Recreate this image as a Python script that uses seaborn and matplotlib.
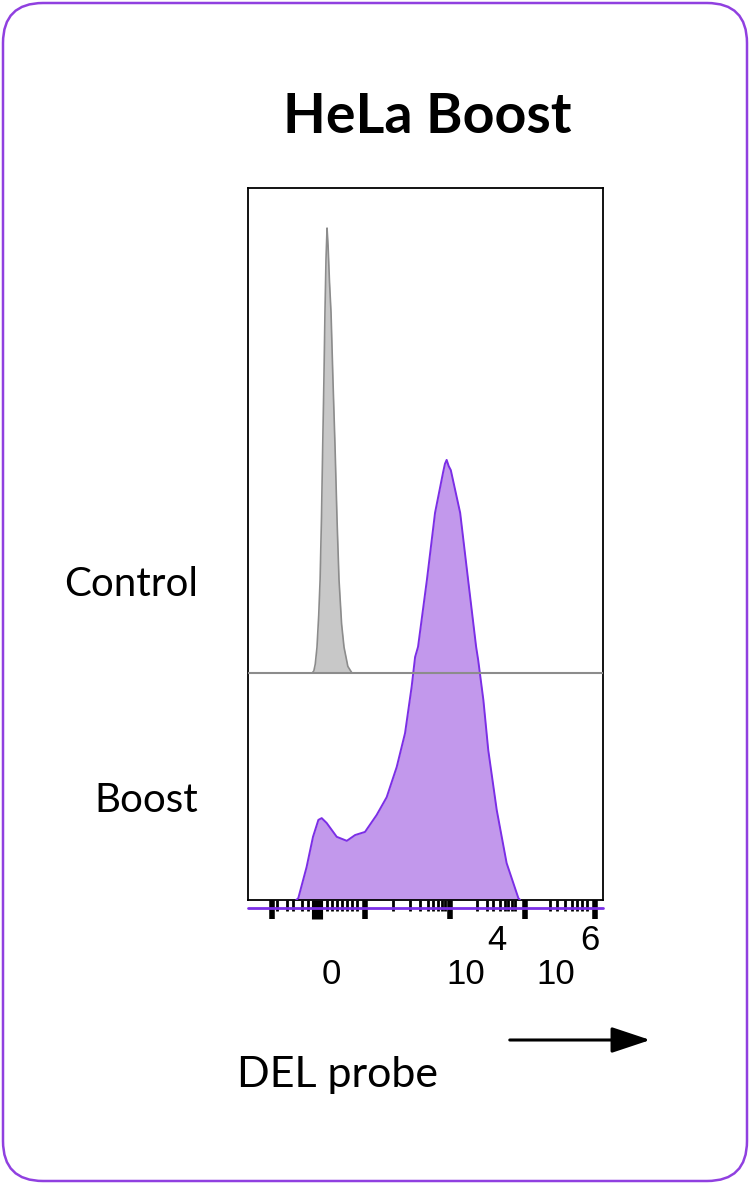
import matplotlib
matplotlib.use('Agg')
import matplotlib.pyplot as plt
import seaborn as sns
from matplotlib.patches import FancyBboxPatch

# x values in display channels (0-1024 flow scale), y in % of mode
control_channel = [185, 190, 194, 199, 204, 208, 212, 215.5, 219, 222, 225, 228,
                   231, 235, 239.5, 245, 251, 257, 262.5, 270, 277, 288, 300]
control_pct = [0, 0.5, 2, 5.8, 13, 21, 35, 51, 66, 81, 93, 100,
               96, 88, 81, 66, 51, 34, 21, 11, 5.8, 1.5, 0]

boost_channel = [139, 145, 169, 187.5, 203, 212.6, 227, 256, 285, 309, 337.5, 371,
                 400, 429, 453, 472, 482, 490.5, 516, 539.5, 563, 568, 573, 579,
                 585, 612, 635, 658, 664, 679, 693, 717.5, 746, 780, 785]
boost_pct = [0, 0.4, 7.4, 14.2, 18, 18.4, 17.3, 14.2, 13.3, 14.6, 15.3, 19.1,
             23.1, 29.9, 37.5, 47.9, 54.6, 56.9, 71.9, 87, 96.2, 98, 98.9, 97.5,
             96.6, 87, 71.9, 56.9, 53.9, 44.9, 33.7, 20.2, 8.3, 0.4, 0]

sample_names = ['Control', 'Boost']
lane_offset = 51

# axis ticks (channel positions of -10^3, 0, 10^3, 10^4, 10^5, 10^6)
major_ticks = [69, 199, 338, 583, 799, 1001]
minor_ticks = [84, 113, 130, 156, 173,
               228, 242, 257, 271, 286, 300, 314,
               418, 467, 496, 519, 534, 548, 560, 568,
               661, 690, 707, 727, 741, 750, 762, 770,
               871, 891, 915, 935, 949, 964, 978]

purple_line = '#7b2ee6'
purple_fill = '#c298ec'
grey_line = '#8c8c8c'
grey_fill = '#c8c8c8'

sns.set_style('white')
plt.rcParams['font.family'] = ['Lato', 'DejaVu Sans']
plt.rcParams['text.color'] = 'black'

fig = plt.figure(figsize=(7.5, 11.84), dpi=100)
ax = fig.add_axes([248 / 750, 1 - 900 / 1184, 355 / 750, 712 / 1184])

# Boost histogram
ax.fill_between(boost_channel, 0, boost_pct, color=purple_fill, lw=0, zorder=2)
sns.lineplot(x=boost_channel, y=boost_pct, color=purple_line, lw=1.4, ax=ax, zorder=3)

# Control histogram, offset lane
ctrl_top = [v + lane_offset for v in control_pct]
ax.fill_between(control_channel, lane_offset, ctrl_top, color=grey_fill, lw=0, zorder=2)
sns.lineplot(x=control_channel, y=ctrl_top, color=grey_line, lw=1.2, ax=ax, zorder=3)
ax.axhline(lane_offset, color=grey_line, lw=1.5, zorder=4)

# boost baseline drawn just under the axis
ax.plot([0, 1], [-0.011, -0.011], transform=ax.transAxes, clip_on=False,
        color=purple_line, lw=2, zorder=1)

ax.set_xlim(0, 1024)
ax.set_ylim(0, 160)
ax.set_yticks([])
ax.set_xticks(major_ticks)
ax.set_xticks(minor_ticks, minor=True)
ax.set_xticklabels([])
ax.tick_params(axis='x', which='major', direction='out', length=14, width=4,
               color='black', bottom=True)
ax.tick_params(axis='x', which='minor', direction='out', length=8, width=2,
               color='black', bottom=True)
for t in ax.xaxis.get_major_ticks():
    if t.get_loc() == 199:
        t.tick1line.set_markeredgewidth(8)
for s in ax.spines.values():
    s.set_color('black')
    s.set_linewidth(1.3)
ax.set_xlabel('')
ax.set_ylabel('')

# tick labels, FlowJo-style
lab_kw = dict(family='Liberation Sans', fontsize=25, ha='center', va='center',
              color='black')
fig.text(331 / 750, 1 - 975 / 1184, '0', **lab_kw)
fig.text(466 / 750, 1 - 975 / 1184, '10', **lab_kw)
fig.text(497 / 750, 1 - 941 / 1184, '4', **lab_kw)
fig.text(556 / 750, 1 - 975 / 1184, '10', **lab_kw)
fig.text(590 / 750, 1 - 941 / 1184, '6', **lab_kw)

# lane labels
fig.text(198 / 750, 1 - 585 / 1184, sample_names[0], ha='right', va='center',
         fontsize=29, color='black')
fig.text(198 / 750, 1 - 800 / 1184, sample_names[1], ha='right', va='center',
         fontsize=29, color='black')

fig.text(427 / 750, 1 - 117 / 1184, 'HeLa Boost', ha='center', va='center',
         fontsize=40, fontweight='bold', color='black')
fig.text(237 / 750, 1 - 1075 / 1184, 'DEL probe', ha='left', va='center',
         fontsize=31, color='black')

ax.annotate('', xy=(653 / 750, 1 - 1040 / 1184), xytext=(507 / 750, 1 - 1040 / 1184),
            xycoords='figure fraction', textcoords='figure fraction',
            arrowprops=dict(arrowstyle='-|>,head_length=1.2,head_width=0.4',
                            mutation_scale=20, color='black', lw=2.2))

border = FancyBboxPatch((0.03, 0.03), 7.44, 11.78,
                        boxstyle='round,pad=0,rounding_size=0.4',
                        transform=fig.dpi_scale_trans, fill=False,
                        edgecolor='#9040e0', lw=1.8)
fig.patches.append(border)

fig.savefig('out.png', dpi=100)
